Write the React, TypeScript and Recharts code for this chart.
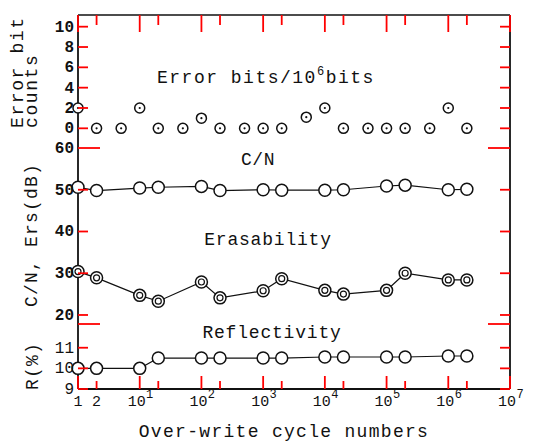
import { LineChart, Line, XAxis, YAxis } from "recharts";

// over-write cycles where error bits were counted
const errCycles = [1, 2, 5, 10, 20, 50, 100, 200, 500, 1000, 2000, 5000, 1e4, 2e4, 5e4, 1e5, 2e5, 5e5, 1e6, 2e6];
const errorBits = [2, 0, 0, 2, 0, 0, 1, 0, 0, 0, 0, 1.1, 2, 0, 0, 0, 0, 0, 2, 0];

// cycles for C/N, erasability and reflectivity
const cycles = [1, 2, 10, 20, 100, 200, 1000, 2000, 1e4, 2e4, 1e5, 2e5, 1e6, 2e6];
const cnValues = [50.6, 49.8, 50.4, 50.6, 50.8, 49.8, 50, 49.9, 49.9, 50, 50.9, 51.1, 50, 50.1];
const ersValues = [30.4, 28.9, 24.7, 23.3, 27.9, 24.1, 25.8, 28.7, 25.9, 25.0, 25.9, 30.0, 28.4, 28.4];
const reflValues = [10, 10, 10, 10.5, 10.5, 10.5, 10.5, 10.5, 10.55, 10.55, 10.55, 10.55, 10.6, 10.6];

const xTicks = [1, 2, 10, 20, 100, 200, 1e3, 2e3, 1e4, 2e4, 1e5, 2e5, 1e6, 2e6, 1e7];
const errTicks = [0, 2, 4, 6, 8, 10];
const cnTicks = [20, 30, 40, 50, 60];
const rTicks = [9, 10, 11];

const errDomain = [-1.74, 11.15];
const cnDomain = [17.84, 60.48];
const rDomain = [9, 12.15];

const errData = errCycles.map((n, i) => ({ n, err: errorBits[i] }));
const mainData = cycles.map((n, i) => ({ n, cn: cnValues[i], ers: ersValues[i] }));
const reflData = cycles.map((n, i) => ({ n, r: reflValues[i] }));

const FONT = "'Liberation Mono', 'DejaVu Sans Mono', monospace";
const INK = "#111";
const TICK = "red";
const W = 546;
// axes are 1px wide/high, so margins are one less than the frame edges (78 / 510)
const LEFT = 77;
const RIGHT = W - 510 - 1;
const PAD = 20; // extra room so labels at panel edges are not clipped

const yTick = (side: "left" | "right", labels: number[], long: number[], bold = false) => (props: any) => {
  const { x, y, payload } = props;
  const v = payload.value;
  const len = long.includes(v) ? 22 : 10;
  const dir = side === "left" ? 1 : -1;
  return (
    <g>
      <line x1={x} x2={x + dir * len} y1={y} y2={y} stroke={TICK} strokeWidth={1.8} />
      {side === "left" && labels.includes(v) && (
        <text x={x - 4} y={y} dy={5} textAnchor="end" fontFamily={FONT} fontSize={16}
          fontWeight={bold ? "bold" : "normal"} fill={INK}>{v}</text>
      )}
    </g>
  );
};

const xTick = (pos: "top" | "bottom") => (props: any) => {
  const { x, y, payload } = props;
  const v = payload.value;
  const e = Math.round(Math.log10(v));
  const decade = Math.abs(Math.log10(v) - e) < 1e-6;
  const len = pos === "top" ? (decade ? 17 : 10) : (decade ? 13 : 8);
  const dir = pos === "top" ? 1 : -1;
  let label = null;
  if (pos === "bottom") {
    if (v === 1 || v === 2) {
      label = <text x={x} y={y + 17} textAnchor="middle" fontFamily={FONT} fontSize={15} fill={INK}>{v}</text>;
    } else if (decade) {
      label = (
        <g>
          <text x={x - 3} y={y + 17} textAnchor="middle" fontFamily={FONT} fontSize={15} fill={INK}>10</text>
          <text x={x + 10} y={y + 9} textAnchor="middle" fontFamily={FONT} fontSize={12} fill={INK}>{e}</text>
        </g>
      );
    }
  }
  return (
    <g>
      <line x1={x} x2={x} y1={y} y2={y + dir * len} stroke={TICK} strokeWidth={1.8} />
      {label}
    </g>
  );
};

const ringDot = (r: number, centre: "dot" | "ring" | "none") => (props: any) => {
  const { cx, cy, index } = props;
  if (cx == null || cy == null) return <g key={index} />;
  return (
    <g key={index}>
      <circle cx={cx} cy={cy} r={r} fill="#fff" stroke={INK} strokeWidth={1.5} />
      {centre === "dot" && <circle cx={cx} cy={cy} r={1.1} fill={INK} />}
      {centre === "ring" && <circle cx={cx} cy={cy} r={3} fill="none" stroke={INK} strokeWidth={1.2} />}
    </g>
  );
};

const txt = { fontFamily: FONT, fill: INK } as const;
const axisLine = { stroke: INK, strokeWidth: 1.8 };
const yCommon = { type: "number" as const, interval: 0 as const, width: 1, tickSize: 0, tickMargin: 0, tickLine: false, axisLine };

export default function App() {
  return (
    <div style={{ position: "absolute", left: 0, top: 0, width: W, height: 444, background: "#fff" }}>
      {/* error bits panel: y 15..146 */}
      <div style={{ position: "absolute", left: 0, top: 0 }}>
        <LineChart width={W} height={146} data={errData} margin={{ top: 14, right: RIGHT, bottom: 0, left: LEFT }}>
          <XAxis dataKey="n" type="number" scale="log" domain={[1, 1e7]} ticks={xTicks} interval={0}
            orientation="top" height={1} tickSize={0} tickMargin={0} tickLine={false}
            axisLine={{ stroke: INK, strokeWidth: 1.6 }} tick={xTick("top")} />
          <YAxis yAxisId="l" {...yCommon} domain={errDomain} ticks={errTicks} tick={yTick("left", errTicks, [], true)} />
          <YAxis yAxisId="r" orientation="right" {...yCommon} domain={errDomain} ticks={errTicks} tick={yTick("right", [], [])} />
          <Line yAxisId="l" dataKey="err" stroke="none" isAnimationActive={false} dot={ringDot(5, "dot")} />
          <Line yAxisId="r" dataKey="err" stroke="none" isAnimationActive={false} dot={false} legendType="none" />
        </LineChart>
      </div>
      {/* C/N and erasability panel: y 146..324 */}
      <div style={{ position: "absolute", left: 0, top: 146 - PAD }}>
        <LineChart width={W} height={178 + PAD} data={mainData} margin={{ top: PAD, right: RIGHT, bottom: 0, left: LEFT }}>
          <XAxis dataKey="n" type="number" scale="log" domain={[1, 1e7]} hide />
          <YAxis yAxisId="l" {...yCommon} domain={cnDomain} ticks={cnTicks} tick={yTick("left", cnTicks, [60], true)} />
          <YAxis yAxisId="r" orientation="right" {...yCommon} domain={cnDomain} ticks={cnTicks} tick={yTick("right", [], [60])} />
          <Line yAxisId="l" dataKey="cn" stroke={INK} strokeWidth={1.2} isAnimationActive={false} dot={ringDot(6, "none")} />
          <Line yAxisId="l" dataKey="ers" stroke={INK} strokeWidth={1.2} isAnimationActive={false} dot={ringDot(6, "ring")} />
          <Line yAxisId="r" dataKey="cn" stroke="none" isAnimationActive={false} dot={false} legendType="none" />
        </LineChart>
      </div>
      {/* reflectivity panel: y 324..389 */}
      <div style={{ position: "absolute", left: 0, top: 324 - PAD }}>
        <LineChart width={W} height={120 + PAD} data={reflData} margin={{ top: PAD, right: RIGHT, bottom: 54, left: LEFT }}>
          <XAxis dataKey="n" type="number" scale="log" domain={[1, 1e7]} ticks={xTicks} interval={0}
            height={1} tickSize={0} tickMargin={0} tickLine={false}
            axisLine={{ stroke: INK, strokeWidth: 2 }} tick={xTick("bottom")} />
          <YAxis yAxisId="l" {...yCommon} domain={rDomain} ticks={[...rTicks, rDomain[1]]} tick={yTick("left", rTicks, [rDomain[1]])} />
          <YAxis yAxisId="r" orientation="right" {...yCommon} domain={rDomain} ticks={[...rTicks, rDomain[1]]} tick={yTick("right", [], [rDomain[1]])} />
          <Line yAxisId="l" dataKey="r" stroke={INK} strokeWidth={1.2} isAnimationActive={false} dot={ringDot(6, "none")} />
          <Line yAxisId="r" dataKey="r" stroke="none" isAnimationActive={false} dot={false} legendType="none" />
        </LineChart>
      </div>
      {/* titles and axis names */}
      <svg width={W} height={444} style={{ position: "absolute", left: 0, top: 0, pointerEvents: "none" }}>
        <text x={157} y={83} fontSize={18} letterSpacing={1.5} {...txt}>
          Error bits/10<tspan dy={-8} fontSize={12}>6</tspan><tspan dy={8}>bits</tspan>
        </text>
        <text x={258} y={165} fontSize={18} textAnchor="middle" letterSpacing={0.6} {...txt}>C/N</text>
        <text x={268} y={245} fontSize={18} textAnchor="middle" letterSpacing={0.8} {...txt}>Erasability</text>
        <text x={272} y={338} fontSize={18} textAnchor="middle" letterSpacing={0.8} {...txt}>Reflectivity</text>
        <text x={284} y={437} fontSize={18} textAnchor="middle" letterSpacing={1.3} {...txt}>Over-write cycle numbers</text>
        <text transform="translate(23,128) rotate(-90)" fontSize={18} letterSpacing={1.6} {...txt}>Error bit</text>
        <text transform="translate(37,128) rotate(-90)" fontSize={18} letterSpacing={1.6} {...txt}>counts</text>
        <text transform="translate(37,235) rotate(-90)" fontSize={18} textAnchor="middle" letterSpacing={1.2} {...txt}>C/N, Ers(dB)</text>
        <text transform="translate(38,366) rotate(-90)" fontSize={18} textAnchor="middle" letterSpacing={1.2} {...txt}>R(%)</text>
      </svg>
    </div>
  );
}
